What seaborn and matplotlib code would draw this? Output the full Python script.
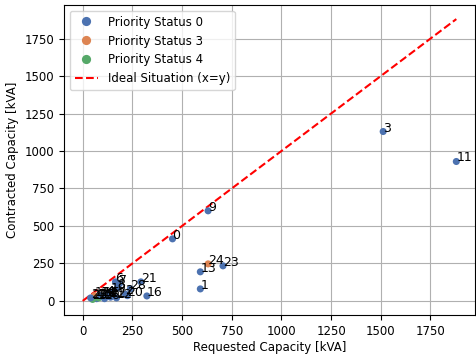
import matplotlib
matplotlib.use("Agg")
import matplotlib.pyplot as plt
import seaborn as sns
import pandas as pd

ids = list(range(29))
requested = [452, 592, 215, 1512, 120, 150, 165, 185, 175, 631, 70, 1880, 170, 592, 100,
             80, 323, 60, 90, 140, 225, 293, 140, 706, 631, 50, 110, 40, 240]
contracted = [414, 80, 45, 1130, 40, 35, 127, 115, 85, 601, 15, 930, 20, 194, 30,
              20, 33, 35, 35, 60, 35, 127, 25, 234, 247, 10, 15, 20, 80]
status = [0, 0, 0, 0, 0, 0, 0, 0, 0, 0, 0, 0, 0, 0, 0,
          4, 0, 3, 0, 0, 0, 0, 0, 0, 3, 4, 0, 0, 0]

df = pd.DataFrame({"id": ids, "Requested": requested, "Contracted": contracted,
                   "Status": [f"Priority Status {s}" for s in status]})

plt.rcParams["font.size"] = 8.5
fig = plt.figure(figsize=(4.76, 3.56), dpi=100)
ax = fig.add_axes([64 / 476, (356 - 315) / 356, (475 - 64) / 476, (315 - 5) / 356])
order = ["Priority Status 0", "Priority Status 3", "Priority Status 4"]
pal = sns.color_palette("deep", 3)
sns.scatterplot(data=df, x="Requested", y="Contracted", hue="Status", hue_order=order,
                palette=pal, s=26, edgecolor="none", ax=ax, zorder=3)
for i, xv, yv in zip(ids, requested, contracted):
    ax.text(xv, yv, str(i), fontsize=9, zorder=4)
mx = max(max(requested), max(contracted))
ax.plot([0, mx], [0, mx], "r--", label="Ideal Situation (x=y)", zorder=2)
ax.grid(True, color="#b0b0b0", zorder=0)
ax.set_axisbelow(True)
ax.set_xlabel("Requested Capacity [kVA]", labelpad=2)
ax.set_ylabel("Contracted Capacity [kVA]")
ax.legend(loc="upper left", fontsize=8.5, markerscale=1.3)
fig.savefig("out.png", dpi=100)
